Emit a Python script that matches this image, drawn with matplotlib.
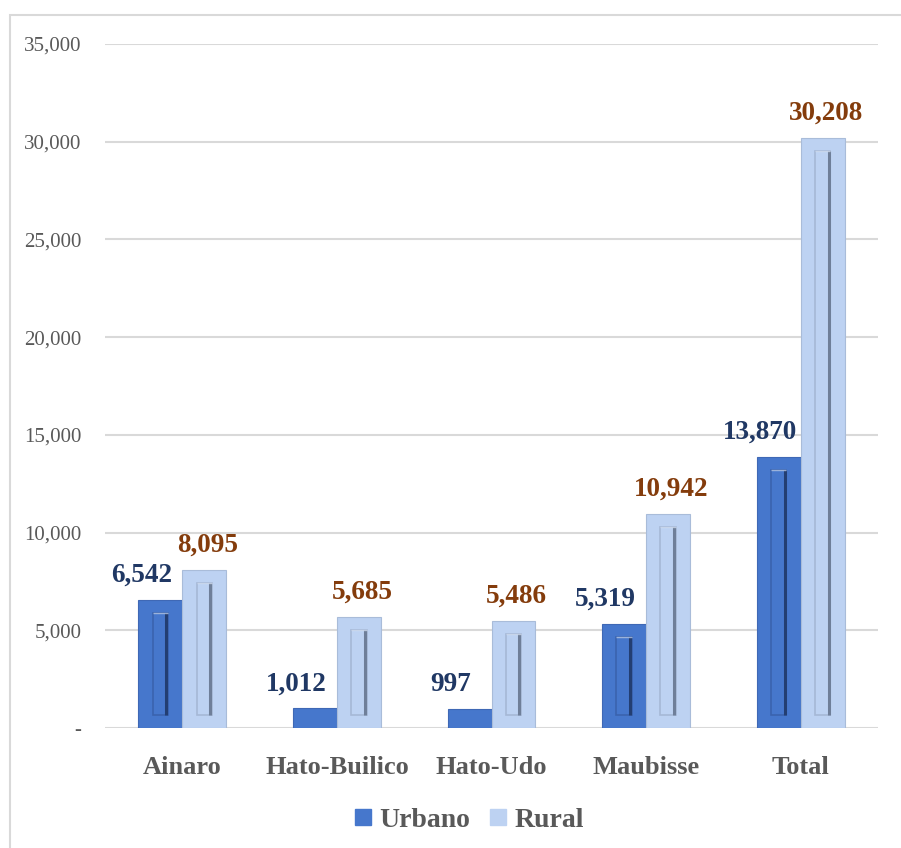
import matplotlib
matplotlib.use("Agg")
import matplotlib.pyplot as plt
import numpy as np
from matplotlib.patches import Rectangle
from matplotlib.lines import Line2D
import matplotlib.transforms as mtransforms

categories = ["Ainaro", "Hato-Builico", "Hato-Udo", "Maubisse", "Total"]
urbano = [6542, 1012, 997, 5319, 13870]
rural = [8095, 5685, 5486, 10942, 30208]
series_names = ["Urbano", "Rural"]
yticks = [0, 5000, 10000, 15000, 20000, 25000, 30000, 35000]
ytick_labels = ["-", "5,000", "10,000", "15,000", "20,000", "25,000", "30,000", "35,000"]

plt.rcParams['font.family'] = ['Liberation Serif', 'DejaVu Serif']

fig = plt.figure(figsize=(9.01, 8.48), dpi=100)
ax = fig.add_axes([105/901, 1-728/848, (878-105)/901, (728-44)/848])

# figure border
fig.patches.append(Rectangle((10/901, -0.1), 1.2, 1 - 15/848 + 0.1, transform=fig.transFigure,
                             fill=False, edgecolor='#D9D9D9', lw=1.5, zorder=0))

x = np.arange(len(categories))
w = 0.284
c_urb = '#4677CC'
c_rur = '#BDD2F2'
lab_urb = '#203864'
lab_rur = '#843C0C'

ax.set_xlim(-0.5, 4.5)
ax.set_ylim(0, 35000)

ax.bar(x - w/2, urbano, w, color=c_urb, edgecolor='#3F68B5', lw=0.8, zorder=3)
ax.bar(x + w/2, rural, w, color=c_rur, edgecolor='#A9BCD9', lw=0.8, zorder=3)

# inner bevel rectangles (only on bars tall enough)
inset = 35000 * 13 / 684
iw = 0.10
for vals, off, edge, dark in [(urbano, -w/2, '#3A63AE', '#233E72'), (rural, w/2, '#A6B8D6', '#6F7F99')]:
    vals = np.array(vals)
    m = vals > 3 * inset
    xs = x[m] + off
    vv = vals[m]
    ax.bar(xs, vv - 2*inset, iw, bottom=inset, facecolor='none', edgecolor=edge, lw=1.2, zorder=4)
    ax.vlines(xs + iw/2 - 0.012, inset, vv - inset, color=dark, lw=2.2, zorder=5)
    ax.hlines(vv - inset, xs - iw/2, xs + iw/2, color='#DCE6F5', lw=1.0, alpha=0.6, zorder=5)

# grid
for t in yticks:
    ax.axhline(t, color='#D9D9D9', lw=1.5, zorder=1)
for s in ax.spines.values():
    s.set_visible(False)

ax.set_yticks(yticks)
ax.set_yticklabels(ytick_labels, fontsize=15, color='#595959')
ax.tick_params(axis='y', length=0, pad=17)
ax.set_xticks(x)
ax.set_xticklabels(categories, fontsize=19, fontweight='bold', color='#595959')
ax.tick_params(axis='x', length=0, pad=20)

# data labels
for xi, v in zip(x, urbano):
    tr = mtransforms.offset_copy(ax.transData, fig=fig, x=-19, y=18, units='dots')
    ax.text(xi - w/2, v, f"{v:,}", transform=tr, ha='center', va='baseline',
            fontsize=19.5, fontweight='bold', color=lab_urb, zorder=6)
for xi, v in zip(x, rural):
    tr = mtransforms.offset_copy(ax.transData, fig=fig, x=3, y=18, units='dots')
    ax.text(xi + w/2, v, f"{v:,}", transform=tr, ha='center', va='baseline',
            fontsize=19.5, fontweight='bold', color=lab_rur, zorder=6)

handles = [Line2D([], [], marker='s', linestyle='none', markersize=11, markerfacecolor=c_urb, markeredgecolor=c_urb),
           Line2D([], [], marker='s', linestyle='none', markersize=11, markerfacecolor=c_rur, markeredgecolor=c_rur)]
leg = fig.legend(handles, series_names, loc='center', bbox_to_anchor=(468/901, 1-820/848), ncol=2,
                 frameon=False, prop={'family': 'Liberation Serif', 'weight': 'bold', 'size': 20},
                 handletextpad=0.2, columnspacing=0.6, handlelength=0.8)
for t in leg.get_texts():
    t.set_color('#595959')

fig.savefig("out.png", dpi=100)
